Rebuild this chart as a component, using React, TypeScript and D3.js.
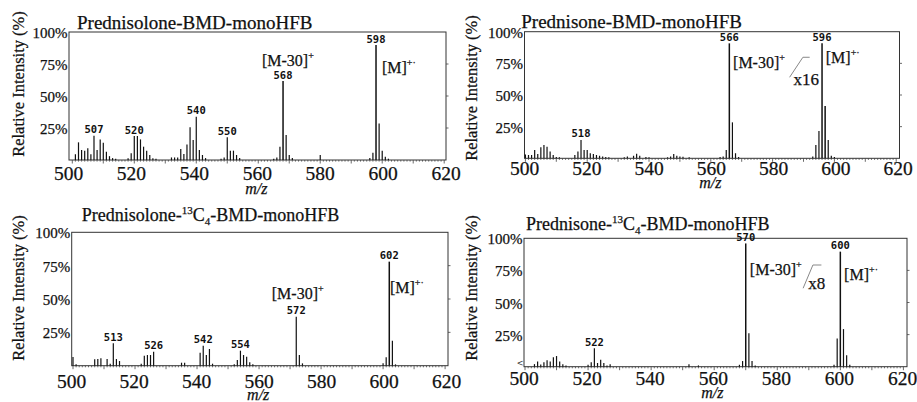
import React from "react";
import * as d3 from "d3";

// ---------- shared axis data ----------
const MZ_DOMAIN: [number, number] = [500, 620];
const X_TICK_VALUES = [500, 520, 540, 560, 580, 600, 620];
const Y_TICK_VALUES = [25, 50, 75, 100];
const Y_TICK_LABELS = ["25%", "50%", "75%", "100%"];
const Y_AXIS_TITLE = "Relative Intensity (%)";
const X_AXIS_TITLE = "m/z";

// ---------- panel 1: Prednisolone-BMD-monoHFB ----------
const P1_TITLE = ["Prednisolone-BMD-monoHFB"];
const P1_PEAKS: [number, number][] = [
  [501, 4.4], [502, 13.8], [503, 7.8], [504, 7.3], [505, 9.1], [506, 4.4], [507, 19], [508, 7.8],
  [509, 16.1], [510, 13.5], [511, 6.5], [512, 3], [513, 1.5], [514, 1],
  [518, 1.3], [519, 5.2], [520, 18.7], [521, 18.7], [522, 16.1], [523, 10.4], [524, 7.3], [525, 3.9],
  [526, 1.3], [527, 1],
  [532, 2], [533, 2], [534, 2], [535, 8.6], [536, 4.7], [537, 12.2], [538, 25.5], [539, 15.6],
  [540, 33.8], [541, 7.8], [542, 3.9], [543, 1.5],
  [548, 1], [549, 2], [550, 17.7], [551, 7.3], [552, 7.3], [553, 3.9], [554, 1.5],
  [565, 1], [566, 2], [567, 10.4], [568, 61.7], [569, 19.5], [570, 3.9], [571, 1.5],
  [580, 3.9],
  [596, 1.5], [597, 5.7], [598, 89.8], [599, 28.6], [600, 7.3], [601, 2.6], [602, 1],
];
const P1_LABELED = [507, 520, 540, 550, 568, 598];
const P1_IONS = [
  { base: "[M-30]", sup: "+", mz: 561.2, pct: 73.4 },
  { base: "[M]", sup: "+·", mz: 599.9, pct: 68 },
];

// ---------- panel 2: Prednisone-BMD-monoHFB ----------
const P2_TITLE = ["Prednisone-BMD-monoHFB"];
const P2_PEAKS: [number, number][] = [
  [500, 3], [501, 2.6], [502, 2.6], [503, 6.6], [504, 3.4], [505, 8.7], [506, 10.5], [507, 9.2],
  [508, 5.3], [509, 2.6], [510, 1], [511, 0.8],
  [516, 2.6], [517, 5.3], [518, 14.5], [519, 6.6], [520, 6.6], [521, 4], [522, 3.4], [523, 2.6],
  [524, 2], [525, 1.5], [526, 1], [527, 0.8],
  [532, 0.8], [533, 1.5], [535, 2], [536, 3.5], [537, 2], [539, 1], [540, 0.8],
  [546, 0.8], [547, 1.5], [548, 3.4], [549, 2], [550, 1.5], [551, 1.2], [553, 0.8],
  [563, 1], [564, 1.5], [565, 6.5], [566, 90.8], [567, 28.4], [568, 4], [569, 1],
  [593, 1.5], [594, 10.5], [595, 21.6], [596, 90.8], [597, 41.3], [598, 14.5], [599, 2], [600, 1],
];
const P2_LABELED = [518, 566, 596];
const P2_IONS = [
  { base: "[M-30]", sup: "+", mz: 567.2, pct: 71.1 },
  { base: "[M]", sup: "+·", mz: 597.2, pct: 75 },
];
const P2_NOTE = { text: "x16", mz: 586.8, pct: 57.7, line: [[585.5, 64], [589.8, 79.8], [592, 79.8]] as [number, number][] };

// ---------- panel 3: Prednisolone-13C4-BMD-monoHFB ----------
const P3_TITLE = ["Prednisolone-", "13", "C", "4", "-BMD-monoHFB"];
const P3_PEAKS: [number, number][] = [
  [500, 6.5], [501, 1], [507, 4.75], [508, 5], [509, 5.5], [511, 5], [512, 1.5], [513, 16.75],
  [514, 5], [515, 3.5],
  [522, 1.5], [523, 7.5], [524, 8], [525, 8], [526, 10.5],
  [535, 2.25], [536, 2.25], [541, 9.75], [542, 15], [543, 8], [544, 12.5], [545, 1.5],
  [552, 1], [553, 4.25], [554, 11.25], [555, 8], [556, 6.75], [557, 2.5], [558, 1],
  [572, 36.75], [573, 8], [574, 1.75],
  [600, 1.75], [601, 6.25], [602, 78], [603, 18.75], [604, 1],
];
const P3_LABELED = [513, 526, 542, 554, 572, 602];
const P3_IONS = [
  { base: "[M-30]", sup: "+", mz: 564.1, pct: 49.8 },
  { base: "[M]", sup: "+·", mz: 602.2, pct: 54.3 },
];

// ---------- panel 4: Prednisone-13C4-BMD-monoHFB ----------
const P4_TITLE = ["Prednisone-", "13", "C", "4", "-BMD-monoHFB"];
const P4_PEAKS: [number, number][] = [
  [503, 2], [504, 4], [505, 1.8], [506, 3.5], [507, 5], [508, 4], [509, 7.3], [510, 8.3], [511, 4],
  [512, 2], [513, 1],
  [520, 1.5], [521, 3.4], [522, 14.3], [523, 2.9], [524, 5.5], [525, 2.9], [526, 1], [527, 2],
  [552, 2], [555, 1],
  [568, 1.5], [569, 4.4], [570, 96], [571, 26], [572, 4.4], [573, 1],
  [598, 1.5], [599, 22], [600, 89.6], [601, 29.3], [602, 9], [603, 1.5],
];
const P4_LABELED = [522, 570, 600];
const P4_IONS = [
  { base: "[M-30]", sup: "+", mz: 571.3, pct: 71.4 },
  { base: "[M]", sup: "+·", mz: 601.2, pct: 67.5 },
];
const P4_NOTE = { text: "x8", mz: 589.8, pct: 60.3, line: [[588.2, 61.1], [591.3, 79.2], [594, 79.2]] as [number, number][] };

// ---------- layout (pixels) ----------
type Layout = {
  frame: [number, number, number, number]; // left, right, top(100%), bottom(0%)
  peakRange: [number, number];
  labelRange: [number, number];
  title: [number, number];
  titleSize: number;
  xTickY: number;
  mzY: number;
  yTitle: [number, number];
  startMark?: boolean;
};

const PANELS = [
  {
    peaks: P1_PEAKS, labeled: P1_LABELED, title: P1_TITLE, ions: P1_IONS, note: null,
    layout: { frame: [69, 446, 32, 160], peakRange: [72.3, 444.2], labelRange: [68.5, 446], title: [77, 29], titleSize: 19, xTickY: 180, mzY: 194, yTitle: [18, 84] } as Layout,
  },
  {
    peaks: P2_PEAKS, labeled: P2_LABELED, title: P2_TITLE, ions: P2_IONS, note: P2_NOTE,
    layout: { frame: [524.5, 899.5, 31.7, 158.3], peakRange: [525.4, 896.2], labelRange: [524.7, 898], title: [521.3, 27.5], titleSize: 19, xTickY: 174.5, mzY: 188, yTitle: [471, 88] } as Layout,
  },
  {
    peaks: P3_PEAKS, labeled: P3_LABELED, title: P3_TITLE, ions: P3_IONS, note: null,
    layout: { frame: [71.7, 448, 232.3, 365.7], peakRange: [73, 445.1], labelRange: [71.7, 446.7], title: [81.7, 221], titleSize: 18, xTickY: 387.5, mzY: 399.5, yTitle: [18, 288] } as Layout,
  },
  {
    peaks: P4_PEAKS, labeled: P4_LABELED, title: P4_TITLE, ions: P4_IONS, note: P4_NOTE,
    layout: { frame: [524, 907, 238.3, 366.7], peakRange: [525, 903.4], labelRange: [524, 902.5], title: [526, 229.5], titleSize: 18, xTickY: 384.5, mzY: 397.5, yTitle: [471, 288], startMark: true } as Layout,
  },
];

const SERIF = "'Liberation Serif', 'Times New Roman', Times, serif";
const MONO = "'DejaVu Sans Mono', 'Liberation Mono', monospace";
const INK = "#111";

function Panel({ p }: { p: (typeof PANELS)[number] }) {
  const L = p.layout;
  const [left, right, top, bottom] = L.frame;
  const xp = d3.scaleLinear().domain(MZ_DOMAIN).range(L.peakRange);
  const xl = d3.scaleLinear().domain(MZ_DOMAIN).range(L.labelRange);
  const y = d3.scaleLinear().domain([0, 100]).range([bottom, top]);
  const peakMap = new Map(p.peaks.map(([m, v]) => [m, v]));
  const minor = d3.range(MZ_DOMAIN[0], MZ_DOMAIN[1] + 1, 1);
  const line = d3.line<[number, number]>().x((d) => xp(d[0])).y((d) => y(d[1]));
  const ts = L.titleSize;
  const heavy = { stroke: INK, strokeWidth: 0.25 };

  return (
    <g>
      {/* title */}
      <text x={L.title[0]} y={L.title[1]} fontFamily={SERIF} fontSize={ts} fill={INK} {...heavy}>
        {p.title.length === 1 ? (
          p.title[0]
        ) : (
          <>
            <tspan>{p.title[0]}</tspan>
            <tspan fontSize={11} dy={-7}>{p.title[1]}</tspan>
            <tspan dy={7}>{p.title[2]}</tspan>
            <tspan fontSize={11} dy={4}>{p.title[3]}</tspan>
            <tspan dy={-4}>{p.title[4]}</tspan>
          </>
        )}
      </text>

      {/* frame */}
      <rect x={left} y={top} width={right - left} height={bottom - top} fill="none" stroke="#333" strokeWidth={1} />

      {/* right ticks */}
      {Y_TICK_VALUES.slice(0, 3).map((v) => (
        <line key={"rt" + v} x1={right} x2={right + 2.5} y1={y(v)} y2={y(v)} stroke="#444" strokeWidth={0.8} />
      ))}

      {/* baseline minor / major ticks */}
      {minor.map((m) => (
        <line key={"mt" + m} x1={xp(m)} x2={xp(m)} y1={bottom} y2={bottom + (m % 10 === 0 ? 3.5 : 1.6)} stroke="#444" strokeWidth={0.8} />
      ))}

      {/* peaks */}
      {p.peaks.map(([m, v]) => (
        <line key={"pk" + m} x1={xp(m)} x2={xp(m)} y1={bottom} y2={y(v)} stroke={INK} strokeWidth={v > 40 ? 1.5 : 1.2} />
      ))}

      {/* peak labels */}
      {p.labeled.map((m) => (
        <text key={"pl" + m} x={xp(m)} y={y(peakMap.get(m) ?? 0) - 2.5} textAnchor="middle" fontFamily={MONO} fontWeight="bold" fontSize={10.5} fill={INK}>
          {String(m)}
        </text>
      ))}

      {/* ion annotations */}
      {p.ions.map((a, i) => (
        <text key={"ion" + i} x={xp(a.mz)} y={y(a.pct)} fontFamily={SERIF} fontSize={16} fill={INK} {...heavy}>
          <tspan>{a.base}</tspan>
          <tspan fontSize={10} dy={-7}>{a.sup}</tspan>
        </text>
      ))}

      {/* scale note */}
      {p.note && (
        <g>
          <path d={line(p.note.line) ?? ""} fill="none" stroke="#888" strokeWidth={1} />
          <text x={xp(p.note.mz)} y={y(p.note.pct)} fontFamily={SERIF} fontSize={17} fill={INK} {...heavy}>
            {p.note.text}
          </text>
        </g>
      )}

      {L.startMark && (
        <text x={left - 0.5} y={bottom - 1} textAnchor="end" fontFamily="'DejaVu Sans', sans-serif" fontSize={8} fill="#333">
          {"<"}
        </text>
      )}

      {/* x tick labels */}
      {X_TICK_VALUES.map((v) => (
        <text key={"xt" + v} x={xl(v)} y={L.xTickY} textAnchor="middle" fontFamily={SERIF} fontSize={19.5} fill={INK} {...heavy}>
          {v}
        </text>
      ))}

      {/* y tick labels */}
      {Y_TICK_VALUES.map((v, i) => (
        <text key={"yt" + v} x={left - 1.5} y={y(v) + 6} textAnchor="end" fontFamily={SERIF} fontSize={15} fill={INK} {...heavy}>
          {Y_TICK_LABELS[i]}
        </text>
      ))}

      {/* axis titles */}
      <text x={xl(560) - 1} y={L.mzY} textAnchor="middle" fontFamily={SERIF} fontStyle="italic" fontSize={16} fill={INK} {...heavy}>
        {X_AXIS_TITLE}
      </text>
      <text
        transform={`translate(${L.yTitle[0]},${L.yTitle[1]}) rotate(-90)`}
        textAnchor="middle"
        dominantBaseline="central"
        fontFamily={SERIF}
        fontSize={16.5}
        fill={INK}
        {...heavy}
      >
        {Y_AXIS_TITLE}
      </text>
    </g>
  );
}

export default function App() {
  return (
    <svg
      width={917}
      height={402}
      viewBox="0 0 917 402"
      style={{ position: "absolute", left: 0, top: 0, background: "#fff" }}
    >
      <rect x={0} y={0} width={917} height={402} fill="#fff" />
      {PANELS.map((p, i) => (
        <Panel key={i} p={p} />
      ))}
    </svg>
  );
}
